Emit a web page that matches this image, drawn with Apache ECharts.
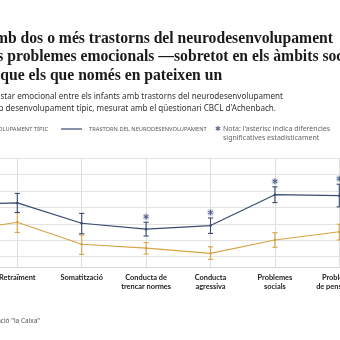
<!DOCTYPE html>
<html><head><meta charset="utf-8">
<script src="https://cdn.jsdelivr.net/npm/echarts@6/dist/echarts.min.js"></script>
<style>html,body{margin:0;padding:0;width:340px;height:340px;overflow:hidden;background:#fff;position:relative}
#c{position:absolute;left:-130px;top:0;width:600px;height:340px}</style>
</head><body><div id="c"></div>
<script>
// ---- data ----
const categories = ['Ansietat/\ndepressió','Retraïment','Somatització','Conducta de\ntrencar normes','Conducta\nagressiva','Problemes\nsocials','Problemes\nde pensament','Problemes\nd\'atenció'];
const tipicMean = [57.4, 60.5, 53.8, 52.6, 51.0, 55.1, 57.6, 58.0];
const tipicLow  = [55.0, 57.4, 50.7, 50.8, 49.2, 52.9, 55.1, 55.5];
const tipicHigh = [59.8, 63.4, 56.6, 54.3, 53.0, 57.3, 59.9, 60.5];
const trastMean = [65.9, 66.4, 60.2, 58.4, 59.5, 68.9, 68.6, 68.4];
const trastLow  = [63.0, 63.5, 57.0, 56.3, 57.1, 66.5, 65.2, 65.5];
const trastHigh = [68.8, 69.3, 63.2, 60.5, 61.8, 71.3, 72.1, 71.3];
const significant = [false, false, false, true, true, true, true, false];
const seriesNames = ['DESENVOLUPAMENT TÍPIC', 'TRASTORN DEL NEURODESENVOLUPAMENT'];
const titleLines = ['Els infants amb dos o més trastorns del neurodesenvolupament',
                    'tenen més problemes emocionals —sobretot en els àmbits socials—',
                    'que els que només en pateixen un'];
const subtitleLines = ['Comparació del benestar emocional entre els infants amb trastorns del neurodesenvolupament',
                       'i els infants amb desenvolupament típic, mesurat amb el qüestionari CBCL d\'Achenbach.'];
const noteLines = ['Nota: l\'asterisc indica diferències', 'significatives estadísticament'];
const sourceText = 'Font: Observatori Social de la Fundació "la Caixa"';

// ---- style ----
const NAVY = '#3a4a72', GOLD = '#d7a445';
const OX = 130; // container offset
const ctx = document.createElement('canvas').getContext('2d');
function w(font, t){ ctx.font = font; return ctx.measureText(t).width; }
function fitSize(family, weight, text, target, base){
  const m = w(weight + ' ' + base + 'px ' + family, text);
  return base * target / m;
}
const serif = '"Liberation Serif"', sans = '"Noto Sans"';
const tSize = fitSize(serif, 'bold', titleLines[2], 222, 15);
const tFont = 'bold ' + tSize.toFixed(2) + 'px ' + serif;
const sSize = fitSize(sans, 'normal', 'star emocional entre els infants amb trastorns del neurodesenvolupament', 283, 9);
const sFont = sSize.toFixed(2) + 'px ' + sans;
const lSize = fitSize(sans, 'normal', seriesNames[1], 118, 6);
const lFont = lSize.toFixed(2) + 'px ' + sans;
const nFont = '7px ' + sans;

function txt(x, y, text, font, fill, align){
  return {type:'text', x: x + OX, y: y, style:{text:text, font:font, fill:fill, textAlign:align||'left', textVerticalAlign:'middle'}};
}
const LY = 129;
const graphics = [
  txt(333, 38.5, titleLines[0], tFont, '#1a1a1a', 'right'),
  txt(7.3 - w(tFont, 'tenen més '), 57, titleLines[1], tFont, '#1a1a1a'),
  txt(0.3, 75.5, titleLines[2], tFont, '#1a1a1a'),
  txt(283, 97, subtitleLines[0], sFont, '#333', 'right'),
  txt(276, 109, subtitleLines[1], sFont, '#333', 'right'),
  txt(48, LY, seriesNames[0], lFont, '#555', 'right'),
  {type:'line', shape:{x1: 48 - w(lFont, seriesNames[0]) - 28 + OX, y1:LY, x2: 48 - w(lFont, seriesNames[0]) - 7 + OX, y2:LY}, style:{stroke:GOLD, lineWidth:1.2}},
  {type:'line', shape:{x1: 61 + OX, y1:LY, x2: 82 + OX, y2:LY}, style:{stroke:NAVY, lineWidth:1.2}},
  txt(89, LY, seriesNames[1], lFont, '#555'),
  txt(218, LY, '✱', '7px "DejaVu Sans"', '#5a6a90', 'center'),
  txt(223, LY, noteLines[0], nFont, '#666'),
  txt(223, LY + 9, noteLines[1], nFont, '#666'),
  txt(40, 321, sourceText, '6.5px ' + sans, '#555', 'right')
];

function errRender(color){
  return function(params, api){
    const i = api.value(0);
    const top = api.coord([i, api.value(2)]);
    const bot = api.coord([i, api.value(1)]);
    const c = 2.6;
    const st = {stroke: color, lineWidth: 1.1};
    return {type:'group', children:[
      {type:'line', shape:{x1:top[0], y1:top[1], x2:bot[0], y2:bot[1]}, style:st},
      {type:'line', shape:{x1:top[0]-c, y1:top[1], x2:top[0]+c, y2:top[1]}, style:st},
      {type:'line', shape:{x1:bot[0]-c, y1:bot[1], x2:bot[0]+c, y2:bot[1]}, style:st}
    ]};
  };
}
function starRender(params, api){
  const p = api.coord([api.value(0), api.value(1)]);
  const x = p[0], y = p[1] - 5.5, r = 2.6;
  const ch = [{type:'circle', shape:{cx:x, cy:y, r:3.4}, style:{fill:'rgba(90,106,150,0.25)'}}];
  for (let k = 0; k < 3; k++){
    const a = Math.PI / 2 + k * Math.PI / 3;
    ch.push({type:'line', shape:{x1:x - r*Math.cos(a), y1:y - r*Math.sin(a), x2:x + r*Math.cos(a), y2:y + r*Math.sin(a)}, style:{stroke:'#4a5a84', lineWidth:1}});
  }
  return {type:'group', children: ch};
}

const chart = echarts.init(document.getElementById('c'), null, {renderer:'canvas'});
chart.setOption({
  animation:false,
  grid:{left:82.9, right:66.3, top:158.3, bottom:73},
  xAxis:{type:'category', data:categories, boundaryGap:false,
    axisLine:{show:true, lineStyle:{color:'#d6d6d6'}}, axisTick:{show:false},
    splitLine:{show:true, lineStyle:{color:'#dedede', width:1}},
    axisLabel:{interval:0, margin:6, color:'#222', fontSize:7.4, fontWeight:'bold', fontFamily:'Lato', lineHeight:9}},
  yAxis:{type:'value', min:46.86, max:80, splitNumber:6,
    axisLine:{show:false}, axisTick:{show:false}, axisLabel:{show:false},
    splitLine:{lineStyle:{color:'#e2e2e2', width:1}}},
  graphic: graphics,
  series:[
    {name:seriesNames[0], type:'line', data:tipicMean, symbol:'circle', symbolSize:2.5, lineStyle:{color:GOLD, width:1.2}, itemStyle:{color:GOLD}, z:3},
    {name:seriesNames[1], type:'line', data:trastMean, symbol:'circle', symbolSize:2.5, lineStyle:{color:NAVY, width:1.2}, itemStyle:{color:NAVY}, z:3},
    {type:'custom', renderItem:errRender(GOLD), data:tipicMean.map((v,i)=>[i, tipicLow[i], tipicHigh[i]]), z:4},
    {type:'custom', renderItem:errRender(NAVY), data:trastMean.map((v,i)=>[i, trastLow[i], trastHigh[i]]), z:4},
    {type:'custom', renderItem:starRender, data:trastHigh.map((v,i)=>[i, v]).filter((d,i)=>significant[i]), z:5}
  ]
});
</script></body></html>
